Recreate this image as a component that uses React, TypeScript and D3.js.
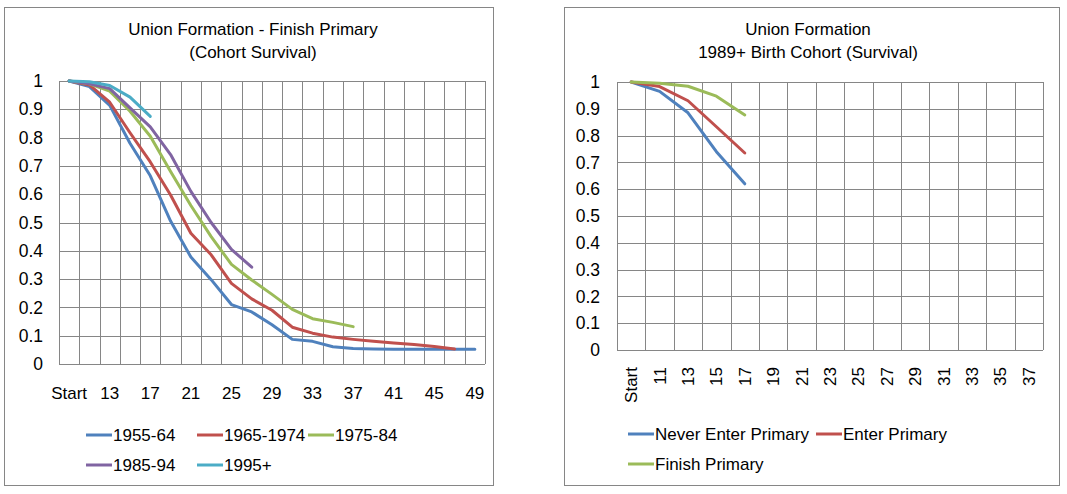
import React from 'react';
import * as d3 from 'd3';

// left chart: union formation by birth cohort, women who finished primary
const cohortAges = ['Start', '11', '13', '15', '17', '19', '21', '23', '25', '27', '29',
  '31', '33', '35', '37', '39', '41', '43', '45', '47', '49'];
const cohort1955 = [1, 0.98, 0.914, 0.78, 0.665, 0.505, 0.378, 0.298, 0.21, 0.184, 0.139,
  0.087, 0.08, 0.061, 0.055, 0.053, 0.052, 0.052, 0.052, 0.052, 0.052];
const cohort1965 = [1, 0.986, 0.925, 0.817, 0.714, 0.597, 0.462, 0.386, 0.285, 0.23, 0.19,
  0.13, 0.109, 0.095, 0.087, 0.08, 0.074, 0.069, 0.062, 0.053];
const cohort1975 = [1, 0.99, 0.964, 0.893, 0.805, 0.68, 0.56, 0.45, 0.352, 0.297, 0.246,
  0.193, 0.16, 0.147, 0.132];
const cohort1985 = [1, 0.99, 0.973, 0.905, 0.838, 0.74, 0.61, 0.5, 0.405, 0.342];
const cohort1995 = [1, 0.997, 0.984, 0.943, 0.875];

// right chart: 1989+ birth cohort by schooling
const schoolAges = ['Start', '11', '13', '15', '17', '19', '21', '23', '25', '27', '29',
  '31', '33', '35', '37'];
const neverEnter = [1, 0.965, 0.885, 0.74, 0.62];
const enterPrimary = [1, 0.983, 0.93, 0.833, 0.735];
const finishPrimary = [1, 0.995, 0.984, 0.947, 0.877];

const yTicks = [0, 0.1, 0.2, 0.3, 0.4, 0.5, 0.6, 0.7, 0.8, 0.9, 1];

const BLUE = '#4F81BD';
const RED = '#C0504D';
const GREEN = '#9BBB59';
const PURPLE = '#8064A2';
const CYAN = '#4BACC6';
const GRID = '#868686';
const FONT = '"Liberation Sans", Arial, sans-serif';

interface Series {
  name: string;
  color: string;
  values: number[];
  lx: number;
  ly: number;
}

interface PanelConfig {
  box: { x: number; y: number; w: number; h: number };
  plot: { left: number; right: number; top: number; bottom: number };
  title: string[];
  titleX: number;
  categories: string[];
  series: Series[];
  labelEvery: number;
  rotate: boolean;
  labelY: number;
  yLabelX: number;
}

const px = (v: number) => Math.round(v) + 0.5;

const Panel = ({ cfg }: { cfg: PanelConfig }) => {
  const { plot, box } = cfg;
  const x = d3
    .scaleBand<string>()
    .domain(cfg.categories)
    .range([plot.left, plot.right]);
  const y = d3.scaleLinear().domain([0, 1]).range([plot.bottom, plot.top]);
  const cx = (i: number) => (x(cfg.categories[i]) || 0) + x.bandwidth() / 2;
  const line = d3
    .line<number>()
    .x((_, i) => cx(i))
    .y((d) => y(d));

  const vLines = cfg.categories.map((c) => x(c) || 0).concat([plot.right]);

  return (
    <g fontFamily={FONT}>
      <rect x={box.x + 0.5} y={box.y + 0.5} width={box.w} height={box.h} fill='#fff' stroke={GRID} />
      {cfg.title.map((t, i) => (
        <text key={t} x={cfg.titleX} y={34.5 + i * 23.5} textAnchor='middle' fontSize={17}>
          {t}
        </text>
      ))}
      {yTicks.map((t) => (
        <line key={'h' + t} x1={plot.left} x2={plot.right} y1={px(y(t))} y2={px(y(t))} stroke={GRID} />
      ))}
      {vLines.map((v, i) => (
        <line key={'v' + i} x1={px(v)} x2={px(v)} y1={plot.top} y2={plot.bottom} stroke={GRID} />
      ))}
      {yTicks.map((t) => (
        <text key={'yl' + t} x={cfg.yLabelX} y={y(t)} dy='0.35em' textAnchor='end' fontSize={17.5}>
          {d3.format('~g')(t)}
        </text>
      ))}
      {cfg.categories.map((c, i) =>
        i % cfg.labelEvery !== 0 ? null : cfg.rotate ? (
          <text
            key={'xl' + c}
            transform={`translate(${cx(i)},${cfg.labelY}) rotate(-90)`}
            dy='0.35em'
            textAnchor='end'
            fontSize={17}
          >
            {c}
          </text>
        ) : (
          <text key={'xl' + c} x={cx(i)} y={cfg.labelY} textAnchor='middle' fontSize={17}>
            {c}
          </text>
        )
      )}
      {cfg.series.map((s) => (
        <path
          key={s.name}
          d={line(s.values) || ''}
          fill='none'
          stroke={s.color}
          strokeWidth={3}
          strokeLinejoin='round'
          strokeLinecap='round'
        />
      ))}
      {cfg.series.map((s) => (
        <g key={'lg' + s.name}>
          <line x1={s.lx} x2={s.lx + 26} y1={s.ly} y2={s.ly} stroke={s.color} strokeWidth={3} />
          <text x={s.lx + 27} y={s.ly} dy='0.35em' fontSize={17}>
            {s.name}
          </text>
        </g>
      ))}
    </g>
  );
};

const leftPanel: PanelConfig = {
  box: { x: 4, y: 7, w: 489, h: 478 },
  plot: { left: 59, right: 485, top: 81, bottom: 364 },
  title: ['Union Formation - Finish Primary', '(Cohort Survival)'],
  titleX: 253,
  categories: cohortAges,
  series: [
    { name: '1955-64', color: BLUE, values: cohort1955, lx: 86, ly: 435 },
    { name: '1965-1974', color: RED, values: cohort1965, lx: 197, ly: 435 },
    { name: '1975-84', color: GREEN, values: cohort1975, lx: 308, ly: 435 },
    { name: '1985-94', color: PURPLE, values: cohort1985, lx: 86, ly: 465 },
    { name: '1995+', color: CYAN, values: cohort1995, lx: 197, ly: 465 },
  ],
  labelEvery: 2,
  rotate: false,
  labelY: 399,
  yLabelX: 43,
};

const rightPanel: PanelConfig = {
  box: { x: 564, y: 7, w: 495, h: 478 },
  plot: { left: 617, right: 1043, top: 82, bottom: 350 },
  title: ['Union Formation', '1989+ Birth Cohort (Survival)'],
  titleX: 808,
  categories: schoolAges,
  series: [
    { name: 'Never Enter Primary', color: BLUE, values: neverEnter, lx: 628, ly: 434 },
    { name: 'Enter Primary', color: RED, values: enterPrimary, lx: 816, ly: 434 },
    { name: 'Finish Primary', color: GREEN, values: finishPrimary, lx: 628, ly: 464 },
  ],
  labelEvery: 1,
  rotate: true,
  labelY: 367,
  yLabelX: 600,
};

export default function App() {
  const width = 1067;
  const height = 494;
  return (
    <svg
      width={width}
      height={height}
      viewBox={`0 0 ${width} ${height}`}
      style={{ position: 'absolute', left: 0, top: 0, background: '#fff' }}
    >
      <rect width={width} height={height} fill='#fff' />
      <Panel cfg={leftPanel} />
      <Panel cfg={rightPanel} />
    </svg>
  );
}
